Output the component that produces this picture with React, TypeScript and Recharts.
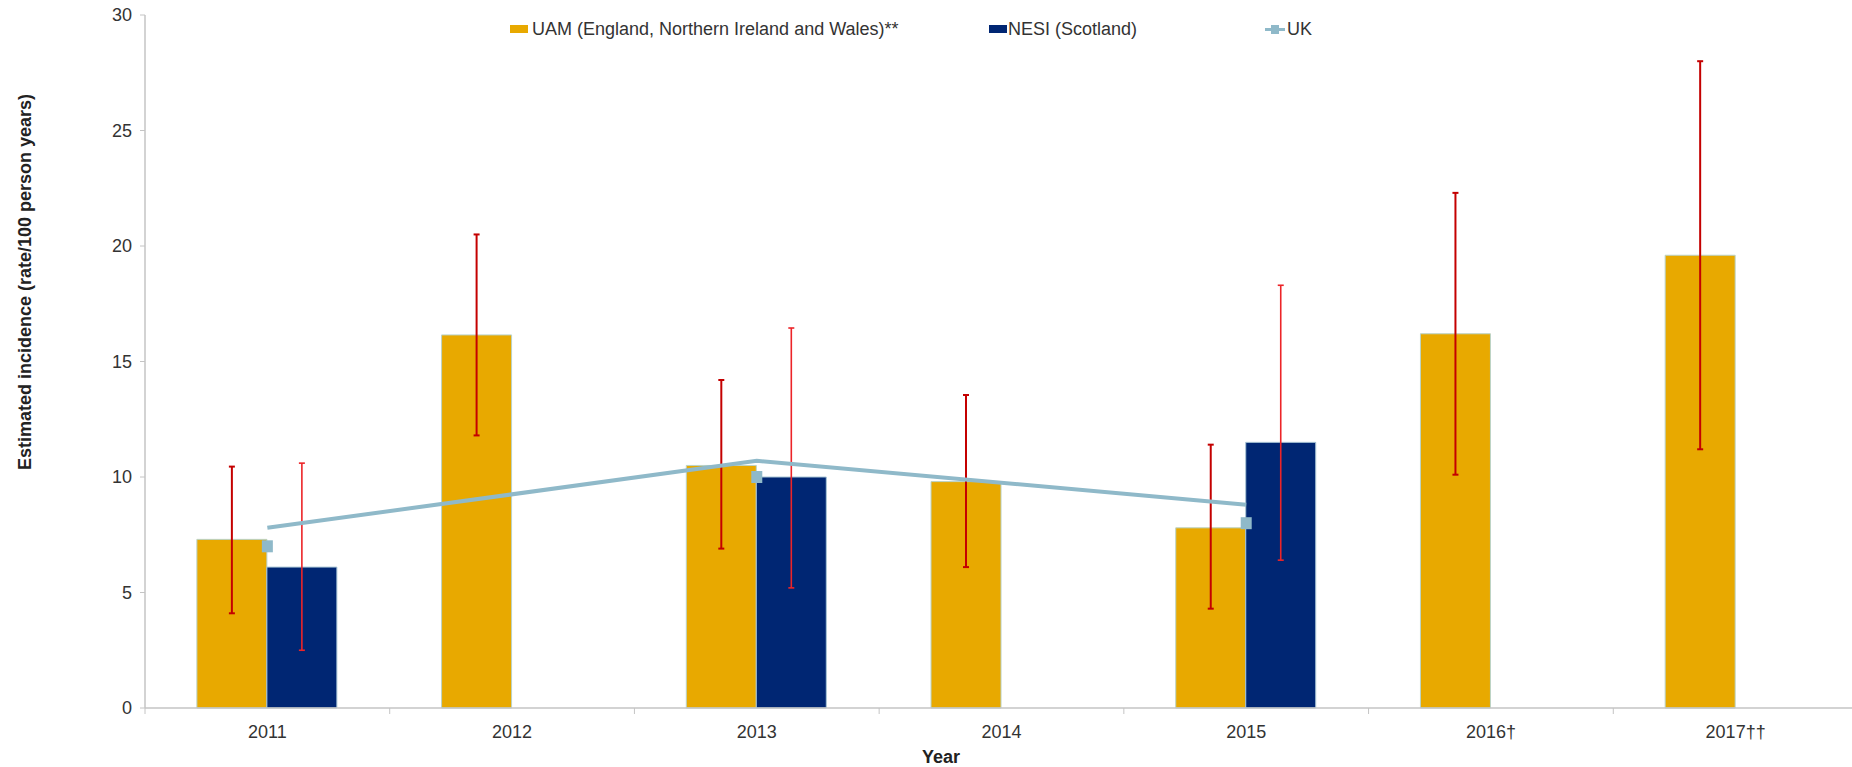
import { Bar, ComposedChart, ErrorBar, Line, XAxis, YAxis } from 'recharts'

const years = ['2011', '2012', '2013', '2014', '2015', '2016†', '2017††']

// UAM (England, Northern Ireland and Wales)
const uamRate = [7.3, 16.15, 10.5, 9.8, 7.8, 16.2, 19.6]
const uamLow = [4.1, 11.8, 6.9, 6.1, 4.3, 10.1, 11.2]
const uamHigh = [10.45, 20.5, 14.2, 13.55, 11.4, 22.3, 28.0]

// NESI (Scotland) – only run in some years
const nesiRate = [6.1, null, 10.0, null, 11.5, null, null]
const nesiLow = [2.5, null, 5.2, null, 6.4, null, null]
const nesiHigh = [10.6, null, 16.45, null, 18.3, null, null]

// UK combined: trend line and point estimates
const ukTrend = [7.8, null, 10.7, null, 8.8, null, null]
const ukEstimate = [7.0, null, 10.0, null, 8.0, null, null]

const yTicks = [0, 5, 10, 15, 20, 25, 30]

const UAM_COLOR = '#e8a900'
const NESI_COLOR = '#002673'
const UK_COLOR = '#8fb9c9'
const FONT = '"Liberation Sans", Arial, sans-serif'

const data = years.map((year, i) => ({
  year,
  uam: uamRate[i],
  uamErr: [uamRate[i] - uamLow[i], uamHigh[i] - uamRate[i]],
  nesi: nesiRate[i],
  nesiErr: nesiRate[i] == null ? null : [nesiRate[i]! - nesiLow[i]!, nesiHigh[i]! - nesiRate[i]!],
  ukTrend: ukTrend[i],
  ukEstimate: ukEstimate[i],
}))

// category label under the band centre, plus a small tick at the band's left edge
function YearTick(props: any) {
  const { x, y, payload } = props
  const half = payload?.offset ?? 122.4
  return (
    <g>
      <line x1={x - half} x2={x - half} y1={y} y2={y + 6} stroke="#c4c4c4" strokeWidth={1} />
      <text x={x} y={y + 30} textAnchor="middle" fontSize={18} fill="#333" fontFamily={FONT}>
        {payload.value}
      </text>
    </g>
  )
}

function UkSquare(props: any) {
  const { cx, cy, value, index } = props
  if (value == null || cx == null || cy == null) return <g key={index} />
  return <rect key={index} x={cx - 5.5} y={cy - 6} width={11} height={12} fill={UK_COLOR} />
}

function LegendRow() {
  const text: React.CSSProperties = {
    position: 'absolute',
    top: 19,
    fontSize: 18,
    lineHeight: '20px',
    color: '#333',
    fontFamily: FONT,
    whiteSpace: 'nowrap',
  }
  return (
    <>
      <div style={{ position: 'absolute', left: 510, top: 25, width: 18, height: 8, background: UAM_COLOR }} />
      <div style={{ ...text, left: 532 }}>UAM (England, Northern Ireland and Wales)**</div>
      <div style={{ position: 'absolute', left: 989, top: 25, width: 18, height: 8, background: NESI_COLOR }} />
      <div style={{ ...text, left: 1008 }}>NESI (Scotland)</div>
      <div style={{ position: 'absolute', left: 1265, top: 28, width: 20, height: 3, background: UK_COLOR }} />
      <div style={{ position: 'absolute', left: 1271, top: 25, width: 8, height: 9, background: UK_COLOR }} />
      <div style={{ ...text, left: 1287 }}>UK</div>
    </>
  )
}

export default function App() {
  return (
    <div style={{ position: 'absolute', left: 0, top: 0, width: 1852, height: 767, overflow: 'hidden', background: '#fff' }}>
      <ComposedChart
        width={1860}
        height={767}
        data={data}
        margin={{ top: 15, right: 2, bottom: 0, left: 0 }}
        barCategoryGap="21.2%"
        barGap={0}
      >
        <XAxis
          dataKey="year"
          height={59}
          tickSize={0}
          tickMargin={0}
          tick={<YearTick />}
          axisLine={{ stroke: '#c4c4c4', strokeWidth: 1.5 }}
          interval={0}
          label={{
            content: () => (
              <text x={941} y={763} textAnchor="middle" fontSize={18} fontWeight="bold" fill="#222" fontFamily={FONT}>
                Year
              </text>
            ),
          }}
        />
        <YAxis
          width={145}
          domain={[0, 30]}
          ticks={yTicks}
          tickSize={5}
          tickMargin={8}
          tick={{ fontSize: 18, fill: '#333', fontFamily: FONT }}
          axisLine={{ stroke: '#c4c4c4', strokeWidth: 1.5 }}
          tickLine={{ stroke: '#c4c4c4' }}
          label={{
            content: () => (
              <text
                x={0}
                y={0}
                transform="translate(31, 282) rotate(-90)"
                textAnchor="middle"
                fontSize={18}
                fontWeight="bold"
                fill="#222"
                fontFamily={FONT}
              >
                Estimated incidence (rate/100 person years)
              </text>
            ),
          }}
        />
        <Bar dataKey="uam" fill={UAM_COLOR} stroke="#b9d3c8" strokeWidth={1} isAnimationActive={false}>
          <ErrorBar dataKey="uamErr" direction="y" width={3} stroke="#c40000" strokeWidth={2} />
        </Bar>
        <Bar dataKey="nesi" fill={NESI_COLOR} stroke="#a9c6d6" strokeWidth={1} isAnimationActive={false}>
          <ErrorBar dataKey="nesiErr" direction="y" width={3} stroke="#ec2428" strokeWidth={1.6} />
        </Bar>
        <Line
          dataKey="ukTrend"
          stroke={UK_COLOR}
          strokeWidth={4}
          dot={false}
          activeDot={false}
          connectNulls
          isAnimationActive={false}
        />
        <Line
          dataKey="ukEstimate"
          stroke="none"
          dot={<UkSquare />}
          activeDot={false}
          isAnimationActive={false}
        />
      </ComposedChart>
      <LegendRow />
    </div>
  )
}
